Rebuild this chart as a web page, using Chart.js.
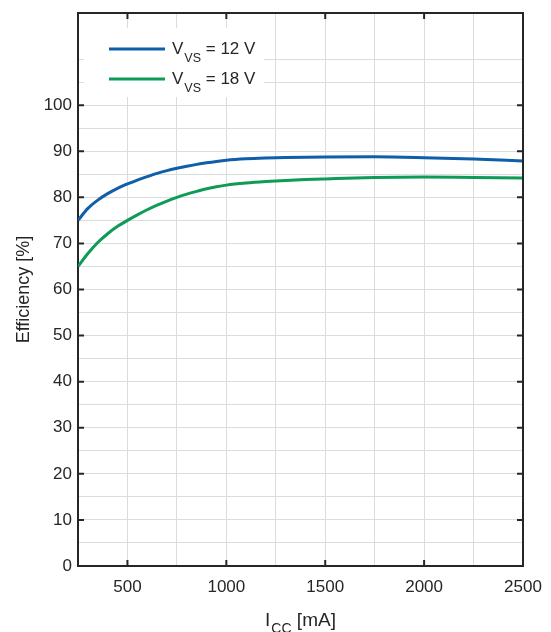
<!DOCTYPE html>
<html>
<head>
<meta charset="utf-8">
<script src="https://cdn.jsdelivr.net/npm/chart.js@4"></script>
<style>
  html, body { margin: 0; padding: 0; background: #fff; }
  #wrap { width: 551px; height: 632px; }
</style>
</head>
<body>
<div id="wrap"><canvas id="c" width="551" height="632"></canvas></div>
<script>
// ---- data ----
const currentMA = [250, 300, 350, 400, 450, 500, 550, 600, 650, 700, 750, 800, 850, 900, 950, 1000,
                   1100, 1200, 1300, 1400, 1500, 1750, 2000, 2250, 2500];
const eff12V    = [75.0, 77.6, 79.4, 80.8, 81.95, 82.9, 83.75, 84.5, 85.2, 85.8, 86.3, 86.75, 87.15, 87.5, 87.8, 88.05,
                   88.35, 88.52, 88.63, 88.71, 88.76, 88.78, 88.6, 88.3, 87.9];
const eff18V    = [65.0, 67.8, 70.2, 72.1, 73.7, 75.0, 76.2, 77.3, 78.3, 79.2, 80.0, 80.7, 81.3, 81.85, 82.3, 82.65,
                   83.1, 83.42, 83.67, 83.86, 84.0, 84.3, 84.4, 84.3, 84.2];
const seriesLabels = ['12 V', '18 V'];
const xTickLabels = [500, 1000, 1500, 2000, 2500];
const yTickLabels = [0, 10, 20, 30, 40, 50, 60, 70, 80, 90, 100];

const BLUE = '#0f5ea9';
const GREEN = '#0d9b55';
const AXIS = '#262626';
const GRID = '#dcdcdc';
const FONT = "'Liberation Sans', Arial, sans-serif";

const toPts = (xs, ys) => xs.map((x, i) => ({x, y: ys[i]}));

const decor = {
  id: 'decor',
  afterDatasetsDraw(chart) {
    const ctx = chart.ctx;
    const {left, right, top, bottom} = chart.chartArea;
    const xs = chart.scales.x, ys = chart.scales.y;
    ctx.save();
    // legend box
    ctx.fillStyle = '#fff';
    ctx.fillRect(84, 28, 180, 69);
    const rows = [{c: BLUE, y: 49, t: seriesLabels[0]}, {c: GREEN, y: 79, t: seriesLabels[1]}];
    rows.forEach(r => {
      ctx.strokeStyle = r.c; ctx.lineWidth = 3;
      ctx.beginPath(); ctx.moveTo(109, r.y); ctx.lineTo(165, r.y); ctx.stroke();
      ctx.fillStyle = AXIS; ctx.textBaseline = 'alphabetic'; ctx.textAlign = 'left';
      ctx.font = '17px ' + FONT;
      ctx.fillText('V', 172, r.y + 5);
      let w = ctx.measureText('V').width;
      ctx.font = '12.5px ' + FONT;
      ctx.fillText('VS', 172 + w + 1, r.y + 13);
      let w2 = ctx.measureText('VS').width;
      ctx.font = '17px ' + FONT;
      ctx.fillText(' = ' + r.t, 172 + w + 1 + w2, r.y + 5);
    });
    // top & right border
    ctx.strokeStyle = AXIS; ctx.lineWidth = 2;
    ctx.beginPath();
    ctx.moveTo(left, top); ctx.lineTo(right, top); ctx.lineTo(right, bottom);
    ctx.stroke();
    // inner tick marks
    ctx.lineWidth = 2;
    ctx.beginPath();
    xTickLabels.forEach(v => {
      const px = xs.getPixelForValue(v);
      if (px >= right - 1) return;
      ctx.moveTo(px, bottom); ctx.lineTo(px, bottom - 6);
      ctx.moveTo(px, top); ctx.lineTo(px, top + 6);
    });
    yTickLabels.forEach(v => {
      const py = ys.getPixelForValue(v);
      if (py >= bottom - 1) return;
      ctx.moveTo(left, py); ctx.lineTo(left + 6, py);
      ctx.moveTo(right, py); ctx.lineTo(right - 6, py);
    });
    ctx.stroke();
    // x axis title with subscript
    const cx = (left + right) / 2;
    ctx.fillStyle = AXIS;
    ctx.textAlign = 'left'; ctx.textBaseline = 'alphabetic';
    ctx.font = '19px ' + FONT;
    const wI = ctx.measureText('I').width;
    const wRest = ctx.measureText(' [mA]').width;
    ctx.font = '14px ' + FONT;
    const wCC = ctx.measureText('CC').width;
    let x0 = cx - (wI + 1 + wCC + wRest) / 2;
    ctx.font = '19px ' + FONT;
    ctx.fillText('I', x0, 626);
    ctx.font = '14px ' + FONT;
    ctx.fillText('CC', x0 + wI + 1, 633);
    ctx.font = '19px ' + FONT;
    ctx.fillText(' [mA]', x0 + wI + 1 + wCC, 626);
    ctx.restore();
  }
};

new Chart(document.getElementById('c'), {
  type: 'line',
  data: {
    datasets: [
      {label: 'VVS = ' + seriesLabels[0], data: toPts(currentMA, eff12V), borderColor: BLUE, borderWidth: 3, pointRadius: 0, cubicInterpolationMode: 'monotone', fill: false},
      {label: 'VVS = ' + seriesLabels[1], data: toPts(currentMA, eff18V), borderColor: GREEN, borderWidth: 3, pointRadius: 0, cubicInterpolationMode: 'monotone', fill: false}
    ]
  },
  options: {
    responsive: false,
    animation: false,
    layout: {padding: {left: 0, top: 13, right: 28, bottom: 0}},
    plugins: {legend: {display: false}, tooltip: {enabled: false}},
    scales: {
      x: {
        type: 'linear', min: 250, max: 2500,
        afterFit: s => { s.height = 66; s.paddingLeft = 0; s.paddingRight = 0; },
        ticks: {stepSize: 250, autoSkip: false, maxRotation: 0, padding: 11,
          color: AXIS, font: {family: FONT, size: 17},
          callback: v => xTickLabels.includes(v) ? String(v) : ''},
        grid: {color: GRID, lineWidth: 1, drawTicks: false},
        border: {display: true, color: AXIS, width: 2}
      },
      y: {
        type: 'linear', min: 0, max: 120,
        afterFit: s => { s.width = 78; s.paddingTop = 0; s.paddingBottom = 0; },
        ticks: {stepSize: 5, autoSkip: false, padding: 6,
          color: AXIS, font: {family: FONT, size: 17},
          callback: v => yTickLabels.includes(v) ? String(v) : ''},
        grid: {color: c => (c.tick && c.tick.value === 115) ? 'rgba(0,0,0,0)' : GRID, lineWidth: 1, drawTicks: false},
        border: {display: true, color: AXIS, width: 2},
        title: {display: true, text: 'Efficiency [%]', color: AXIS, font: {family: FONT, size: 18}, padding: {top: 13, bottom: 0}}
      }
    }
  },
  plugins: [decor]
});
</script>
</body>
</html>
